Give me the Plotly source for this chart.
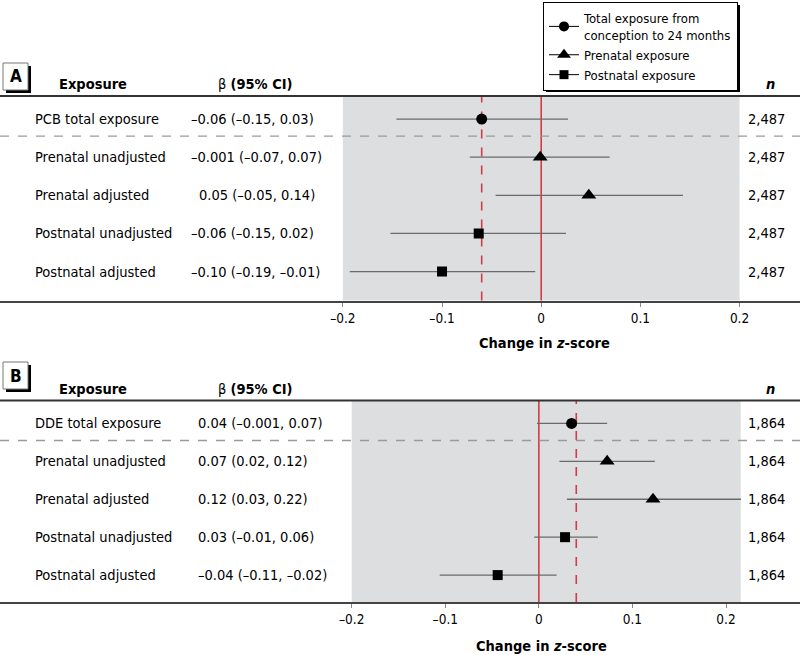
import plotly.graph_objects as go

# ---------------- DATA ----------------
labels_a = ["PCB total exposure", "Prenatal unadjusted", "Prenatal adjusted",
            "Postnatal unadjusted", "Postnatal adjusted"]
beta_text_a = ["\u20130.06 (\u20130.15, 0.03)", "\u20130.001 (\u20130.07, 0.07)",
               "0.05 (\u20130.05, 0.14)", "\u20130.06 (\u20130.15, 0.02)",
               "\u20130.10 (\u20130.19, \u20130.01)"]
est_a = [-0.060, -0.001, 0.048, -0.063, -0.100]
lo_a = [-0.146, -0.072, -0.046, -0.152, -0.193]
hi_a = [0.027, 0.069, 0.143, 0.025, -0.006]
n_a = ["2,487", "2,487", "2,487", "2,487", "2,487"]
ref_a = -0.06

labels_b = ["DDE total exposure", "Prenatal unadjusted", "Prenatal adjusted",
            "Postnatal unadjusted", "Postnatal adjusted"]
beta_text_b = ["0.04 (\u20130.001, 0.07)", "0.07 (0.02, 0.12)", "0.12 (0.03, 0.22)",
               "0.03 (\u20130.01, 0.06)", "\u20130.04 (\u20130.11, \u20130.02)"]
est_b = [0.035, 0.073, 0.122, 0.028, -0.044]
lo_b = [-0.002, 0.022, 0.030, -0.005, -0.106]
hi_b = [0.073, 0.124, 0.216, 0.063, 0.019]
n_b = ["1,864", "1,864", "1,864", "1,864", "1,864"]
ref_b = 0.04

groups = ["total", "pre", "pre", "post", "post"]
legend_names = {"total": "Total exposure from<br>conception to 24 months",
                "pre": "Prenatal exposure", "post": "Postnatal exposure"}
tick_vals = [-0.2, -0.1, 0, 0.1, 0.2]
tick_text = ["\u20130.2", "\u20130.1", "0", "0.1", "0.2"]
shade_a = [-0.2, 0.2]
shade_b = [-0.2, 0.2157]

# ---------------- STYLE ----------------
FONT = "Liberation Sans Narrow, Arial Narrow, DejaVu Sans Condensed, Roboto Condensed, sans-serif"
W, H = 800, 655
FS = 14.5
symbols = {"total": "circle", "pre": "triangle-up", "post": "square"}
msize = {"total": 11, "pre": 13, "post": 10}
GREY_BG = "#dcdee0"
RED = "#d23c46"
ERR = "#6a6a6a"

def px_x(p):
    return p / W

def px_y(p):
    return 1 - p / H

def txt(text, x, y, xref="paper", yref="paper", xanchor="left", size=FS):
    return dict(text=text, xref=xref, yref=yref, x=x, y=y, xanchor=xanchor,
                yanchor="middle", showarrow=False,
                font=dict(family=FONT, size=size, color="black"))

fig = go.Figure()

panels = [
    dict(xa="x", ya="y", xaxis="xaxis", yaxis="yaxis",
         labels=labels_a, beta=beta_text_a, est=est_a, lo=lo_a, hi=hi_a, n=n_a,
         ref=ref_a, shade=shade_a, top=96, bottom=300.5,
         xrange=[-541.2 / 991.7, (W - 541.2) / 991.7],
         yrange=[4.76, -0.605], letter="A", box_top=63, title_y=343),
    dict(xa="x2", ya="y2", xaxis="xaxis2", yaxis="yaxis2",
         labels=labels_b, beta=beta_text_b, est=est_b, lo=lo_b, hi=hi_b, n=n_b,
         ref=ref_b, shade=shade_b, top=400.5, bottom=602,
         xrange=[-538.85 / 935.75, (W - 538.85) / 935.75],
         yrange=[4.71, -0.605], letter="B", box_top=362, title_y=646),
]

shapes = []
annotations = []

for P in panels:
    rows = list(range(len(P["labels"])))
    for g in ["total", "pre", "post"]:
        idx = [i for i in rows if groups[i] == g]
        fig.add_trace(go.Scatter(
            x=[P["est"][i] for i in idx], y=idx, mode="markers",
            xaxis=P["xa"], yaxis=P["ya"],
            marker=dict(symbol=symbols[g], size=msize[g], color="black"),
            error_x=dict(type="data", symmetric=False,
                         array=[P["hi"][i] - P["est"][i] for i in idx],
                         arrayminus=[P["est"][i] - P["lo"][i] for i in idx],
                         width=0, thickness=1.3, color=ERR),
            showlegend=False, hoverinfo="skip"))

    shapes.append(dict(type="rect", xref=P["xa"], yref=P["ya"] + " domain",
                       x0=P["shade"][0], x1=P["shade"][1], y0=0, y1=1,
                       fillcolor=GREY_BG, line_width=0, layer="below"))
    shapes.append(dict(type="line", xref=P["xa"], yref=P["ya"] + " domain",
                       x0=0, x1=0, y0=0, y1=1, line=dict(color=RED, width=1.6),
                       layer="below"))
    shapes.append(dict(type="line", xref=P["xa"], yref=P["ya"] + " domain",
                       x0=P["ref"], x1=P["ref"], y0=0, y1=1,
                       line=dict(color=RED, width=1.6, dash="dash"), layer="below"))
    shapes.append(dict(type="line", xref="paper", yref=P["ya"] + " domain",
                       x0=0, x1=1, y0=1, y1=1, line=dict(color="#333333", width=2)))
    shapes.append(dict(type="line", xref="paper", yref=P["ya"],
                       x0=0, x1=1, y0=0.45, y1=0.45,
                       line=dict(color="#9a9a9a", width=1.3, dash="dash")))
    bt = P["box_top"]
    shapes.append(dict(type="rect", xref="paper", yref="paper",
                       x0=px_x(6), x1=px_x(31), y0=px_y(bt + 30), y1=px_y(bt + 3),
                       fillcolor="black", line_width=0))
    shapes.append(dict(type="rect", xref="paper", yref="paper",
                       x0=px_x(3), x1=px_x(28), y0=px_y(bt + 27), y1=px_y(bt),
                       fillcolor="white", line=dict(color="#777777", width=1)))
    annotations.append(txt("<b>%s</b>" % P["letter"], px_x(15.5), px_y(bt + 13.5),
                           xanchor="center", size=17))

    hy = P["top"] - 12
    annotations.append(txt("<b>Exposure</b>", px_x(57), px_y(hy)))
    annotations.append(txt("\u03b2 <b>(95% CI)</b>", px_x(216), px_y(hy)))
    annotations.append(txt("<b><i>n</i></b>", px_x(770), px_y(hy), xanchor="center"))

    for i in rows:
        annotations.append(txt(P["labels"][i], px_x(33), i, yref=P["ya"]))
        if P["letter"] == "A":
            bx = 189 if P["beta"][i].startswith("\u2013") else 197
        else:
            bx = 196
        annotations.append(txt(P["beta"][i], px_x(bx), i, yref=P["ya"]))
        annotations.append(txt(P["n"][i], px_x(787), i, yref=P["ya"], xanchor="right"))

    annotations.append(txt("<b>Change in <i>z</i>-score</b>", 0.003, px_y(P["title_y"]),
                           xref=P["xa"], xanchor="center"))

for g in ["total", "pre", "post"]:
    fig.add_trace(go.Scatter(x=[None], y=[None], mode="lines+markers",
                             name=legend_names[g],
                             marker=dict(symbol=symbols[g], size=msize[g] - 1, color="black"),
                             line=dict(color="black", width=1)))

# legend shadow
shapes.append(dict(type="rect", xref="paper", yref="paper",
                   x0=px_x(546), x1=px_x(740), y0=px_y(92), y1=px_y(5),
                   fillcolor="black", line_width=0))

layout_axes = {}
for P in panels:
    layout_axes[P["xaxis"]] = dict(
        domain=[0, 1], range=P["xrange"], anchor=P["ya"],
        showgrid=False, zeroline=False, showline=True, linecolor="#444444", linewidth=2,
        ticks="outside", ticklen=4, tickcolor="#888888", tickwidth=1,
        tickvals=tick_vals, ticktext=tick_text,
        tickfont=dict(family=FONT, size=13.5, color="black"), fixedrange=True)
    layout_axes[P["yaxis"]] = dict(
        domain=[px_y(P["bottom"]), px_y(P["top"])], range=P["yrange"], anchor=P["xa"],
        visible=False, showgrid=False, zeroline=False, fixedrange=True)

fig.update_layout(
    width=W, height=H, margin=dict(l=0, r=0, t=0, b=0),
    paper_bgcolor="white", plot_bgcolor="white",
    font=dict(family=FONT, size=FS, color="black"),
    showlegend=True,
    legend=dict(x=px_x(543), y=px_y(2), xanchor="left", yanchor="top",
                bgcolor="white", bordercolor="black", borderwidth=1,
                font=dict(family=FONT, size=13, color="black"),
                itemwidth=30, tracegroupgap=0),
    shapes=shapes, annotations=annotations,
    **layout_axes)

fig.write_html("out.html", config={"displayModeBar": False},
               post_script="document.body.style.margin='0';document.body.style.overflow='hidden';")
